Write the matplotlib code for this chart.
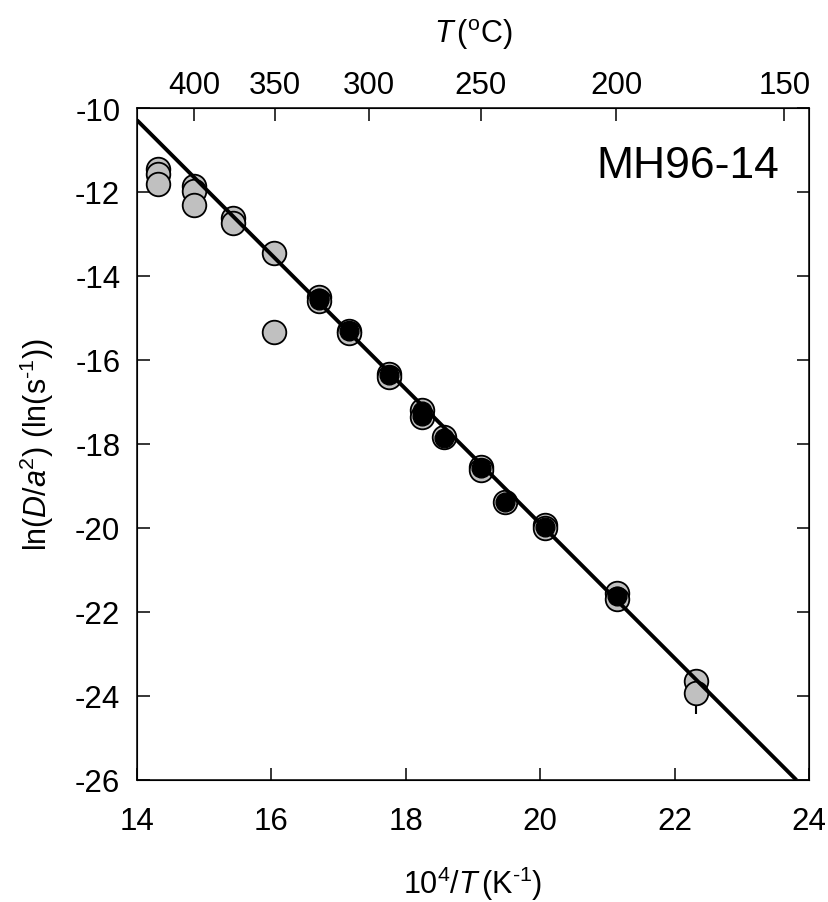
import numpy as np
import matplotlib
matplotlib.use("Agg")
import matplotlib.pyplot as plt

plt.rcParams['font.family'] = ['Liberation Sans', 'DejaVu Sans']
plt.rcParams['mathtext.fontset'] = 'custom'
plt.rcParams['mathtext.rm'] = 'Liberation Sans'
plt.rcParams['mathtext.it'] = 'Liberation Sans:italic'
plt.rcParams['axes.unicode_minus'] = False

# All steps (gray)
x_all = [14.31, 14.31, 14.31, 14.85, 14.85, 14.85, 15.43, 15.43, 16.04, 16.04,
         16.71, 16.71, 17.15, 17.15, 17.75, 17.75, 18.24, 18.24, 18.57,
         19.12, 19.12, 19.48, 20.07, 20.07, 21.14, 21.14, 22.32, 22.32]
y_all = [-11.45, -11.57, -11.80, -11.85, -11.98, -12.30, -12.62, -12.74, -13.45, -15.33,
         -14.50, -14.60, -15.30, -15.35, -16.33, -16.40, -17.20, -17.35, -17.83,
         -18.55, -18.62, -19.38, -19.93, -20.00, -21.55, -21.68, -23.64, -23.93]
# Steps used in regression (black)
x_fit = [16.71, 16.71, 17.15, 17.75, 18.24, 18.24, 18.57, 19.12, 19.48, 20.07, 21.14]
y_fit = [-14.52, -14.58, -15.32, -16.36, -17.22, -17.33, -17.85, -18.57, -19.38, -19.97, -21.62]
# error bar on last step
x_err = [22.32]
y_err = [-23.93]
e_err = [0.5]
# regression line y = a + b x
fit_a = 12.124
fit_b = -1.601
# top axis temperatures
temps_c = [400, 350, 300, 250, 200, 150]

fig = plt.figure(figsize=(8.29, 9.03), dpi=100)
ax = fig.add_axes([137/829, 1-781/903, 672/829, 672/903])

ax.errorbar(x_err, y_err, yerr=e_err, fmt='none', ecolor='black', elinewidth=1.5, capsize=0, zorder=1)
ax.plot(x_all, y_all, 'o', ms=17, mfc='#c0c0c0', mec='black', mew=1.3, ls='none', zorder=2)
ax.plot(x_fit, y_fit, 'o', ms=13.5, mfc='black', mec='black', mew=1.0, ls='none', zorder=3)

x0 = 14.0
x1 = (-26 - fit_a) / fit_b
xl = np.array([x0, x1])
ax.plot(xl, fit_a + fit_b * xl, color='black', lw=2.8, zorder=4, solid_capstyle='butt')

ax.set_xlim(14, 24)
ax.set_ylim(-26, -10)
ax.set_xticks([14, 16, 18, 20, 22, 24])
ax.set_yticks(np.arange(-26, -9, 2))
ax.tick_params(axis='both', direction='in', length=9, width=1.1, labelsize=22.5)
ax.tick_params(axis='y', right=True, pad=12)
ax.tick_params(axis='x', pad=19)
for s in ax.spines.values():
    s.set_linewidth(1.1)

ax2 = ax.twiny()
ax2.set_xlim(ax.get_xlim())
ax2.set_xticks([1e4 / (t + 273.15) for t in temps_c])
ax2.set_xticklabels([str(t) for t in temps_c])
ax2.tick_params(axis='x', direction='in', length=9, width=1.1, labelsize=22.5, pad=6)

ax.set_xlabel(r'$\mathregular{10^4/}\mathit{T}\,\mathregular{(K^{\text{-}1})}$', fontsize=22, labelpad=20)
ax.set_ylabel(r'$\mathregular{ln(}\mathit{D/a}\mathregular{^2)\ (ln(s^{\text{-}1}))}$', fontsize=22, labelpad=14)
ax2.set_xlabel(r'$\mathit{T}\,\mathregular{(^{o}C)}$', fontsize=22, labelpad=20)

ax.text(0.955, 0.915, 'MH96-14', transform=ax.transAxes, ha='right', va='center', fontsize=32)

fig.savefig('out.png', dpi=100)
